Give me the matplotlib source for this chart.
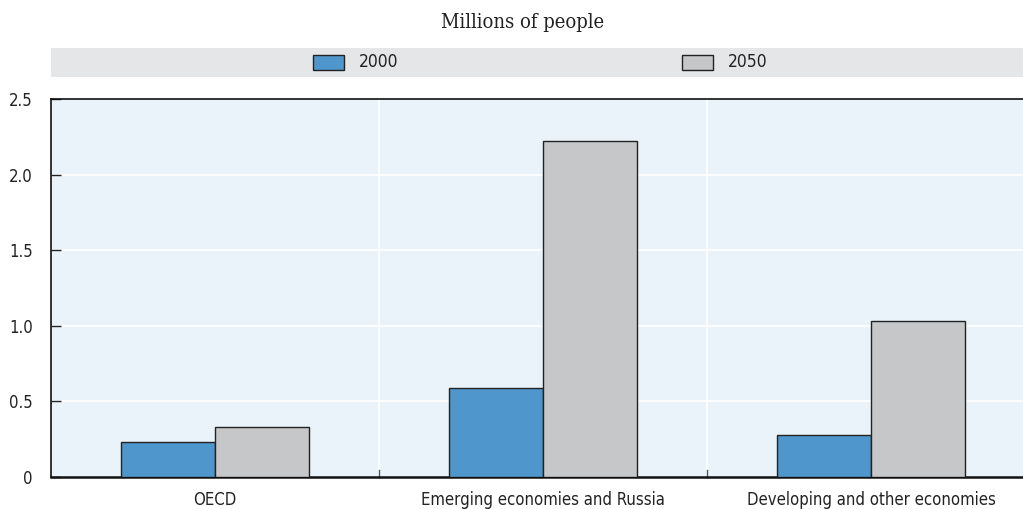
import matplotlib
matplotlib.use("Agg")
import matplotlib.pyplot as plt
from matplotlib.patches import Rectangle
import numpy as np

categories = ["OECD", "Emerging economies and Russia", "Developing and other economies"]
v2000 = [0.23, 0.59, 0.28]
v2050 = [0.33, 2.22, 1.03]
series_labels = ["2000", "2050"]
yticks = [0, 0.5, 1.0, 1.5, 2.0, 2.5]
ytick_labels = ["0", "0.5", "1.0", "1.5", "2.0", "2.5"]

blue = "#4e96cc"
grey = "#c6c7c9"
narrow = dict(family="DejaVu Sans", stretch="condensed")

W, H = 1023, 509
fig = plt.figure(figsize=(W / 100, H / 100), dpi=100)

# axes run past the right edge of the canvas, as in the reference
ax = fig.add_axes([51 / W, 1 - 477 / H, 984 / W, 378 / H])
ax.set_facecolor("#eaf2fa")

x = np.arange(len(categories))
bw = 0.286
ax.bar(x - bw / 2, v2000, bw, color=blue, edgecolor="#222222", linewidth=1.0, zorder=3)
ax.bar(x + bw / 2, v2050, bw, color=grey, edgecolor="#222222", linewidth=1.0, zorder=3)

ax.set_xlim(-0.5, len(categories) - 0.5)
ax.set_ylim(0, 2.5)
ax.set_yticks(yticks)
ax.set_yticklabels(ytick_labels, fontsize=12, **narrow)
ax.set_xticks(x)
ax.set_xticklabels(categories, fontsize=12, **narrow)
ax.tick_params(axis="x", length=0, pad=10)
ax.tick_params(axis="y", direction="in", length=7, width=1, pad=13, colors="#222222")
for t in ax.get_yticklabels() + ax.get_xticklabels():
    t.set_color("#222222")

# white grid: horizontals and category dividers
for yv in yticks[1:-1]:
    ax.axhline(yv, color="white", linewidth=1.2, zorder=1)
for xv in x[:-1] + 0.5:
    ax.axvline(xv, color="white", linewidth=1.2, zorder=1)
    ax.plot([xv, xv], [0, 0.045], color="#555555", linewidth=1, zorder=2, clip_on=False)

for s in ["top", "left"]:
    ax.spines[s].set_linewidth(1.2)
    ax.spines[s].set_color("#111111")
ax.spines["bottom"].set_linewidth(1.8)
ax.spines["bottom"].set_color("#111111")
ax.spines["right"].set_visible(False)

# subtitle
fig.text(523 / W, 1 - 22 / H, "Millions of people", family="DejaVu Serif",
         stretch="condensed", fontsize=14.5, ha="center", va="center", color="#222222")

# legend band
fig.patches.append(Rectangle((51 / W, 1 - 77 / H), 972 / W, 29 / H,
                             transform=fig.transFigure, facecolor="#e5e6e8",
                             edgecolor="none", zorder=0))
for lx, col, lab in [(313, blue, series_labels[0]), (682, grey, series_labels[1])]:
    fig.patches.append(Rectangle((lx / W, 1 - 70 / H), 31 / W, 15 / H,
                                 transform=fig.transFigure, facecolor=col,
                                 edgecolor="#222222", linewidth=1.0, zorder=1))
    fig.text((lx + 46) / W, 1 - 62 / H, lab, fontsize=12.5,
             ha="left", va="center", color="#222222", **narrow)

fig.savefig("out.png", dpi=100)
